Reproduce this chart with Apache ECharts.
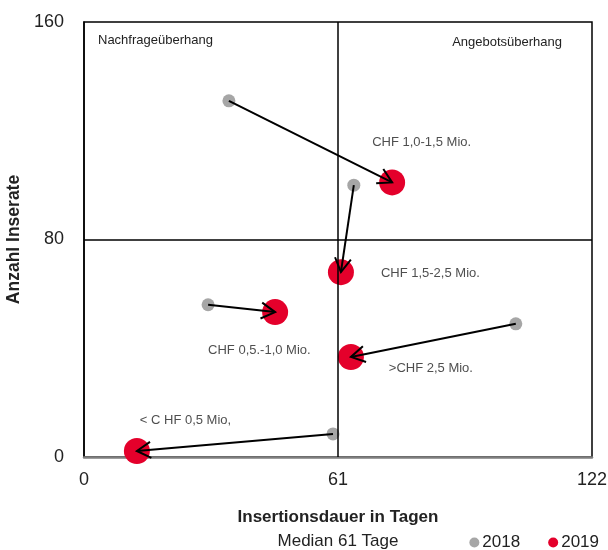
<!DOCTYPE html>
<html>
<head>
<meta charset="utf-8">
<script src="https://cdn.jsdelivr.net/npm/echarts@6/dist/echarts.min.js"></script>
<style>
  html, body { margin: 0; padding: 0; background: #fff; }
  #main { width: 608px; height: 550px; }
</style>
</head>
<body>
<div id="main"></div>
<script>
// segment names (order shared by all arrays)
var segments = ['CHF 1,0-1,5 Mio.', 'CHF 1,5-2,5 Mio.', 'CHF 0,5.-1,0 Mio.', '>CHF 2,5 Mio.', '< C HF 0,5 Mio,'];
var days2018 = [34.8, 64.8, 29.8, 103.7, 59.8];
var ads2018 = [131, 100, 56, 49, 8.5];
var days2019 = [74, 61.7, 45.9, 64.1, 12.7];
var ads2019 = [101, 68, 53.3, 36.8, 2.2];
// where each segment label is anchored (data coords, label left edge)
var labelPos = [[69.2, 115.8], [71.3, 67.6], [29.8, 39.3], [73.2, 32.4], [13.4, 13.6]];
var xTicks = [0, 61, 122];
var yTicks = [0, 80, 160];
var medianDays = 61;
var midAds = 80;

var FONT = '"Liberation Sans", Arial, sans-serif';
var GREY = '#a6a6a6';
var RED = '#e4002b';

var dom = document.getElementById('main');
var myChart = echarts.init(dom, null, { renderer: 'canvas' });

var pts2018 = days2018.map(function (d, i) { return [d, ads2018[i]]; });
var pts2019 = days2019.map(function (d, i) { return [d, ads2019[i]]; });
var arrows = days2018.map(function (d, i) { return [d, ads2018[i], days2019[i], ads2019[i]]; });
var labels = labelPos.map(function (p, i) { return [p[0], p[1], segments[i]]; });

function renderArrow(params, api) {
  var p0 = api.coord([api.value(0), api.value(1)]);
  var p1 = api.coord([api.value(2), api.value(3)]);
  var ang = Math.atan2(p1[1] - p0[1], p1[0] - p0[0]);
  var L = 16, a = Math.PI / 6;
  var h1 = [p1[0] - L * Math.cos(ang - a), p1[1] - L * Math.sin(ang - a)];
  var h2 = [p1[0] - L * Math.cos(ang + a), p1[1] - L * Math.sin(ang + a)];
  return {
    type: 'group',
    children: [
      { type: 'line', shape: { x1: p0[0], y1: p0[1], x2: p1[0], y2: p1[1] }, style: { stroke: '#000', lineWidth: 2 } },
      { type: 'polyline', shape: { points: [h1, p1, h2] }, style: { stroke: '#000', lineWidth: 2, fill: null } }
    ]
  };
}

var option = {
  animation: false,
  textStyle: { fontFamily: FONT },
  grid: {
    left: 84, right: 16, top: 22, bottom: 93,
    outerBoundsMode: 'none', containLabel: false,
    show: true, borderColor: '#000', borderWidth: 1.5
  },
  xAxis: {
    type: 'value',
    min: xTicks[0],
    max: xTicks[2],
    interval: 61,
    splitLine: { show: false },
    axisTick: { show: false },
    axisLine: { lineStyle: { color: '#7f7f7f', width: 2.5 } },
    axisLabel: { color: '#222', fontSize: 18, margin: 14, fontFamily: FONT },
    name: '{b|Insertionsdauer in Tagen}\n{n|Median 61 Tage}',
    nameLocation: 'middle',
    nameGap: 48,
    nameTextStyle: {
      rich: {
        b: { fontSize: 17, fontWeight: 'bold', color: '#222', lineHeight: 24, fontFamily: FONT },
        n: { fontSize: 17, color: '#222', lineHeight: 24, fontFamily: FONT }
      }
    }
  },
  yAxis: {
    type: 'value',
    min: yTicks[0],
    max: yTicks[2],
    interval: 80,
    splitLine: { show: false },
    axisTick: { show: false },
    axisLine: { show: true, lineStyle: { color: '#000', width: 1.5 } },
    axisLabel: { color: '#222', fontSize: 18, margin: 20, fontFamily: FONT },
    name: 'Anzahl Inserate',
    nameLocation: 'middle',
    nameGap: 58,
    nameTextStyle: { fontSize: 17.5, fontWeight: 'bold', color: '#222', fontFamily: FONT }
  },
  legend: {
    right: 4,
    top: 529,
    itemWidth: 10,
    itemHeight: 10,
    itemGap: 28,
    icon: 'circle',
    textStyle: { fontSize: 17, color: '#222', fontFamily: FONT, padding: [0, 0, 0, -2] },
    data: ['2018', '2019']
  },
  graphic: [
    { type: 'text', left: 98, top: 34, style: { text: 'Nachfrageüberhang', fontSize: 13, fill: '#222', fontFamily: FONT } },
    { type: 'text', right: 46, top: 36, style: { text: 'Angebotsüberhang', fontSize: 13, fill: '#222', fontFamily: FONT } }
  ],
  series: [
    {
      name: '2018',
      type: 'scatter',
      symbolSize: 13,
      itemStyle: { color: GREY, opacity: 1 },
      data: pts2018,
      z: 2,
      markLine: {
        silent: true,
        symbol: 'none',
        label: { show: false },
        lineStyle: { color: '#000', width: 1.5, type: 'solid' },
        data: [{ xAxis: medianDays }, { yAxis: midAds }]
      }
    },
    {
      name: '2019',
      type: 'scatter',
      symbolSize: 26,
      itemStyle: { color: RED, opacity: 1 },
      data: pts2019,
      z: 3
    },
    {
      name: 'arrows',
      type: 'custom',
      renderItem: renderArrow,
      encode: { x: [0, 2], y: [1, 3] },
      data: arrows,
      silent: true,
      z: 4
    },
    {
      name: 'labels',
      type: 'scatter',
      symbolSize: 0,
      silent: true,
      data: labels,
      label: {
        show: true,
        position: 'right',
        distance: 0,
        formatter: function (p) { return p.value[2]; },
        fontSize: 13,
        color: '#222',
        fontFamily: FONT
      },
      z: 5
    }
  ]
};

myChart.setOption(option);
window.addEventListener('resize', myChart.resize);
</script>
</body>
</html>
